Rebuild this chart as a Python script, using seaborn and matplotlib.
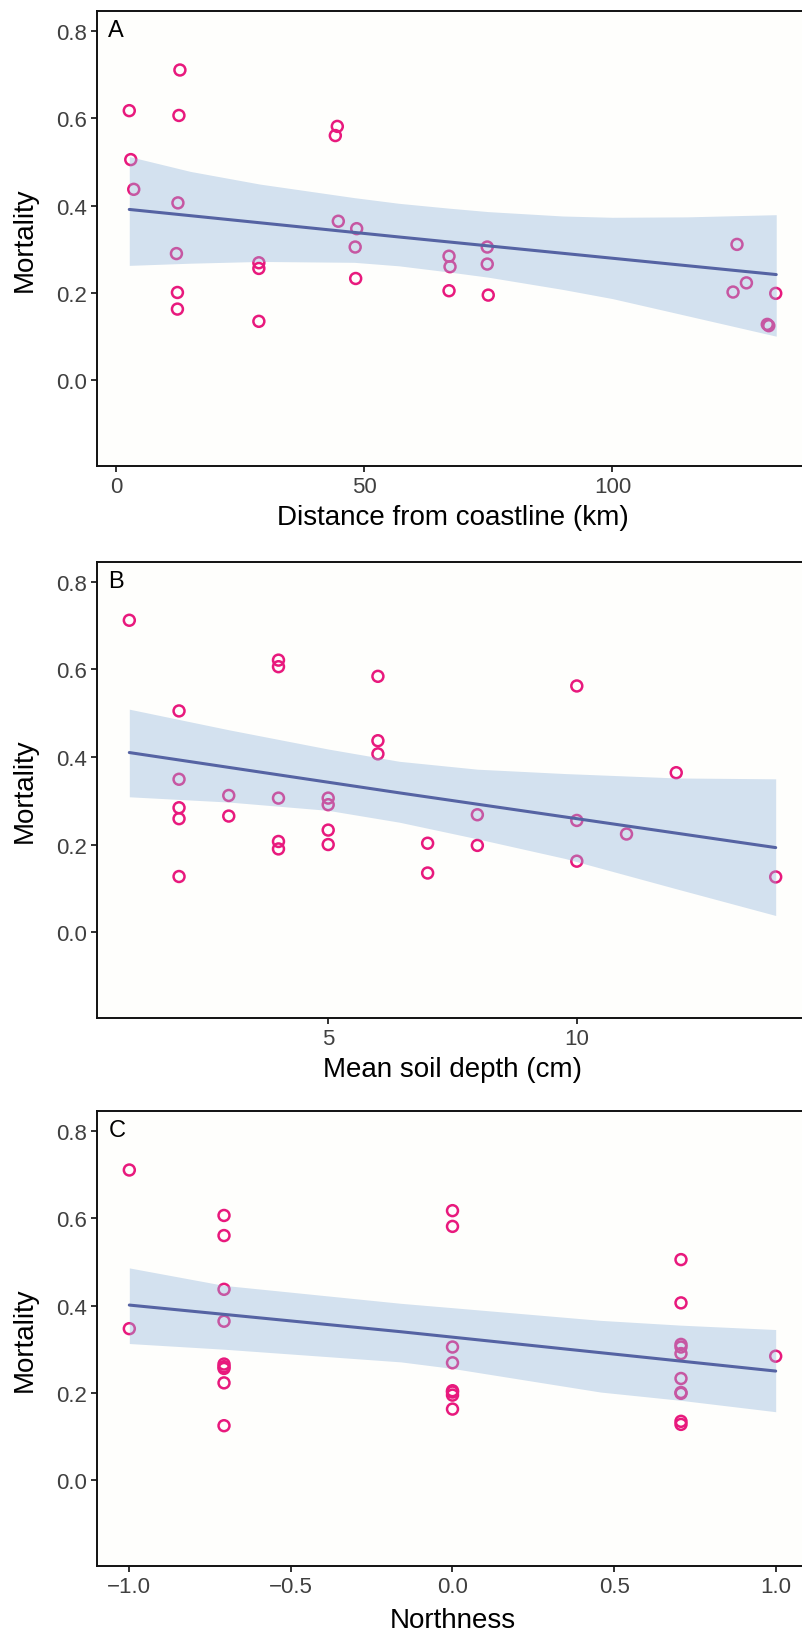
import numpy as np
import pandas as pd
import matplotlib
matplotlib.use("Agg")
import matplotlib.pyplot as plt
import seaborn as sns

# ---------------- data ----------------
mortality = [0.617, 0.505, 0.437, 0.710, 0.606, 0.406, 0.290, 0.201, 0.163,
             0.269, 0.256, 0.135, 0.581, 0.560, 0.364, 0.347, 0.305, 0.233,
             0.284, 0.260, 0.205, 0.305, 0.266, 0.195, 0.311, 0.223, 0.202,
             0.199, 0.128, 0.125]
distance_km = [2.7, 3.0, 3.6, 12.9, 12.7, 12.5, 12.2, 12.4, 12.4,
               28.8, 28.8, 28.8, 44.6, 44.2, 44.8, 48.5, 48.2, 48.3,
               67.1, 67.3, 67.1, 74.8, 74.8, 75.0, 125.1, 127.0, 124.3,
               132.9, 131.2, 131.5]

mortality_b = [0.712, 0.505, 0.349, 0.284, 0.259, 0.127, 0.312, 0.265,
               0.621, 0.606, 0.306, 0.207, 0.190, 0.306, 0.291, 0.233, 0.200,
               0.584, 0.437, 0.407, 0.203, 0.135, 0.268, 0.198, 0.562, 0.255,
               0.162, 0.224, 0.364, 0.126]
soil_depth_cm = [1, 2, 2, 2, 2, 2, 3, 3,
                 4, 4, 4, 4, 4, 5, 5, 5, 5,
                 6, 6, 6, 7, 7, 8, 8, 10, 10,
                 10, 11, 12, 14]

mortality_c = [0.710, 0.347,
               0.606, 0.560, 0.437, 0.364, 0.266, 0.260, 0.256, 0.223, 0.125,
               0.617, 0.581, 0.305, 0.269, 0.205, 0.202, 0.195, 0.163,
               0.505, 0.406, 0.311, 0.305, 0.290, 0.233, 0.201, 0.199, 0.135, 0.128,
               0.284]
northness = [-1.0, -1.0,
             -0.707, -0.707, -0.707, -0.707, -0.707, -0.707, -0.707, -0.707, -0.707,
             0.0, 0.0, 0.0, 0.0, 0.0, 0.0, 0.0, 0.0,
             0.707, 0.707, 0.707, 0.707, 0.707, 0.707, 0.707, 0.707, 0.707, 0.707,
             1.0]

# fitted model line and 95% confidence band
fit_x_a = [2.7, 57, 133]
fit_y_a = [0.391, 0.328, 0.242]
band_x_a = [2.7, 15, 29, 48, 57, 67, 75, 90, 100, 115, 133]
band_lo_a = [0.263, 0.268, 0.272, 0.270, 0.262, 0.248, 0.236, 0.208, 0.187, 0.148, 0.101]
band_hi_a = [0.512, 0.478, 0.449, 0.418, 0.405, 0.394, 0.386, 0.376, 0.373, 0.374, 0.379]

fit_x_b = [1, 6.43, 14]
fit_y_b = [0.410, 0.318, 0.193]
band_x_b = [1, 3, 5, 6.43, 8, 9.77, 12, 14]
band_lo_b = [0.309, 0.297, 0.278, 0.251, 0.213, 0.168, 0.099, 0.038]
band_hi_b = [0.509, 0.462, 0.418, 0.390, 0.372, 0.362, 0.352, 0.350]

fit_x_c = [-1.0, -0.16, 1.0]
fit_y_c = [0.401, 0.340, 0.250]
band_x_c = [-1.0, -0.707, -0.16, 0.0, 0.458, 0.707, 1.0]
band_lo_c = [0.313, 0.300, 0.271, 0.256, 0.202, 0.183, 0.157]
band_hi_c = [0.486, 0.446, 0.405, 0.395, 0.366, 0.355, 0.345]

panel_labels = ["A", "B", "C"]
x_titles = ["Distance from coastline (km)", "Mean soil depth (cm)", "Northness"]
y_title = "Mortality"
y_ticks = [0.0, 0.2, 0.4, 0.6, 0.8]
x_ticks_a = [0, 50, 100]
x_ticks_b = [5, 10]
x_ticks_c = [-1.0, -0.5, 0.0, 0.5, 1.0]

# ---------------- style ----------------
sns.set_theme(style="white")
plt.rcParams["font.family"] = ["Liberation Sans", "DejaVu Sans"]

W, H = 803, 1633
fig = plt.figure(figsize=(W / 100, H / 100), dpi=100)

PINK = "#E8197D"
BAND = "#93B6DC"
LINE = "#5563A3"
TICKC = "#404040"

left = 97 / W
width = (808 - 97) / W
tops = [12, 563, 1112]
bottoms = [467, 1019, 1567]

panels = [
    (distance_km, mortality, fit_x_a, fit_y_a, band_x_a, band_lo_a, band_hi_a,
     (-3.8, 139.4), x_ticks_a, ["0", "50", "100"]),
    (soil_depth_cm, mortality_b, fit_x_b, fit_y_b, band_x_b, band_lo_b, band_hi_b,
     (0.35, 14.65), x_ticks_b, ["5", "10"]),
    (northness, mortality_c, fit_x_c, fit_y_c, band_x_c, band_lo_c, band_hi_c,
     (-1.1, 1.1), x_ticks_c, ["\u22121.0", "\u22120.5", "0.0", "0.5", "1.0"]),
]

for i, (xs, ys, fx, fy, bx, blo, bhi, xlim, xt, xtl) in enumerate(panels):
    t, b = tops[i], bottoms[i]
    ax = fig.add_axes([left, 1 - b / H, width, (b - t) / H])
    ax.set_facecolor("#fefefc")
    df = pd.DataFrame({"x": xs, "y": ys})
    sns.scatterplot(data=df, x="x", y="y", ax=ax, s=62, marker="o",
                    facecolor="none", edgecolor=PINK, linewidth=1.8, zorder=2)
    ax.fill_between(bx, blo, bhi, color=BAND, alpha=0.4, linewidth=0, zorder=3)
    dfl = pd.DataFrame({"x": fx, "y": fy})
    sns.lineplot(data=dfl, x="x", y="y", ax=ax, color=LINE, linewidth=2.2, zorder=4)

    ax.set_xlim(*xlim)
    ax.set_ylim(-0.196, 0.845)
    ax.set_yticks(y_ticks)
    ax.set_yticklabels([f"{v:.1f}" for v in y_ticks])
    ax.set_xticks(xt)
    ax.set_xticklabels(xtl)
    ax.tick_params(axis="both", direction="out", length=4.5, width=1.3,
                   color="#222222", labelsize=16, labelcolor=TICKC, pad=3,
                   bottom=True, left=True)
    for sp in ax.spines.values():
        sp.set_visible(True)
        sp.set_color("#111111")
        sp.set_linewidth(1.4)

    ax.set_xlabel(x_titles[i], fontsize=20, color="black")
    ax.set_ylabel(y_title, fontsize=20, color="black")
    ax.yaxis.set_label_coords(-0.101, 0.5)
    ax.xaxis.set_label_coords(0.5, -0.112 if i < 2 else -0.118)
    ax.xaxis.label.set_va("center")
    ax.yaxis.label.set_va("center")

    ax.text(0.016, 0.958, panel_labels[i], transform=ax.transAxes,
            fontsize=17, color="black", ha="left", va="center")

fig.savefig("out.png", dpi=100, facecolor="white")
